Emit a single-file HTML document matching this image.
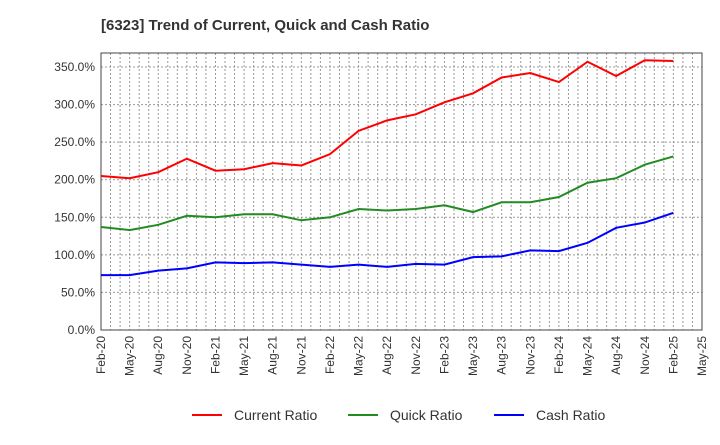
<!DOCTYPE html>
<html><head><meta charset="utf-8"><style>
body{margin:0;background:#fff;font-family:"Liberation Sans",sans-serif}
</style></head><body>
<svg id="c" width="720" height="440" xmlns="http://www.w3.org/2000/svg">
<text x="101" y="30" font-size="15" font-weight="bold" fill="#333">[6323]  Trend of Current, Quick and Cash Ratio</text>
<g id="grid"></g><g id="axes"></g><g id="series"></g><g id="legend"></g>
</svg>
<script>
const xLabels=["Feb-20","May-20","Aug-20","Nov-20","Feb-21","May-21","Aug-21","Nov-21","Feb-22","May-22","Aug-22","Nov-22","Feb-23","May-23","Aug-23","Nov-23","Feb-24","May-24","Aug-24","Nov-24","Feb-25","May-25"];
const yTicks=[0,50,100,150,200,250,300,350];
const currentRatio=[205,202,210,228,212,214,222,219,234,265,279,287,303,315,336,342,330,357,338,359,358];
const quickRatio=[137,133,140,152,150,154,154,146,150,161,159,161,166,157,170,170,177,196,202,220,231];
const cashRatio=[73,73,79,82,90,89,90,87,84,87,84,88,87,97,98,106,105,116,136,143,156];
const L=101,R=702,T=53,B=330;
const x=i=>L+i*(R-L)/(xLabels.length-1);
const y=v=>B-v*(B-67)/350;
const NS="http://www.w3.org/2000/svg";
function mk(tag,attrs,parent){const e=document.createElementNS(NS,tag);for(const k in attrs)e.setAttribute(k,attrs[k]);parent.appendChild(e);return e;}
const grid=document.getElementById('grid'),axes=document.getElementById('axes'),ser=document.getElementById('series'),leg=document.getElementById('legend');
for(let m=0;m<=(xLabels.length-1)*3;m++){const xx=L+m*(R-L)/((xLabels.length-1)*3);
const g=mk('line',{x1:xx,x2:xx,y1:T,y2:B,stroke:'#999','stroke-dasharray':'2,2','stroke-width':1},grid);

}
yTicks.forEach(v=>{const g=mk('line',{x1:L,x2:R,y1:y(v),y2:y(v),stroke:'#999','stroke-dasharray':'2,2','stroke-width':1},grid);


const t=mk('text',{x:L-6,y:y(v)+4,'text-anchor':'end','font-size':12,fill:'#333'},axes);t.textContent=v.toFixed(1)+'%';

});
const fr=mk('rect',{x:L,y:T,width:R-L,height:B-T,fill:'none',stroke:'#444','stroke-width':1},axes);


xLabels.forEach((s,i)=>{const t=mk('text',{transform:`translate(${x(i)+4},${B+6}) rotate(-90)`,'text-anchor':'end','font-size':12,fill:'#333'},axes);t.textContent=s;

});
[[currentRatio,'#ff0000','current-ratio-line'],[quickRatio,'#228b22','quick-ratio-line'],[cashRatio,'#0000ff','cash-ratio-line']].forEach(([d,c,n])=>{
const p=mk('polyline',{points:d.map((v,i)=>x(i)+','+y(v)).join(' '),fill:'none',stroke:c,'stroke-width':2},ser);

});
[['Current Ratio','#ff0000',192],['Quick Ratio','#228b22',348],['Cash Ratio','#0000ff',494]].forEach(([s,c,lx])=>{
const l=mk('line',{x1:lx,x2:lx+30,y1:415,y2:415,stroke:c,'stroke-width':2},leg);


const t=mk('text',{x:lx+42,y:420,'font-size':14,fill:'#333'},leg);t.textContent=s;

});
</script>
</body></html>
